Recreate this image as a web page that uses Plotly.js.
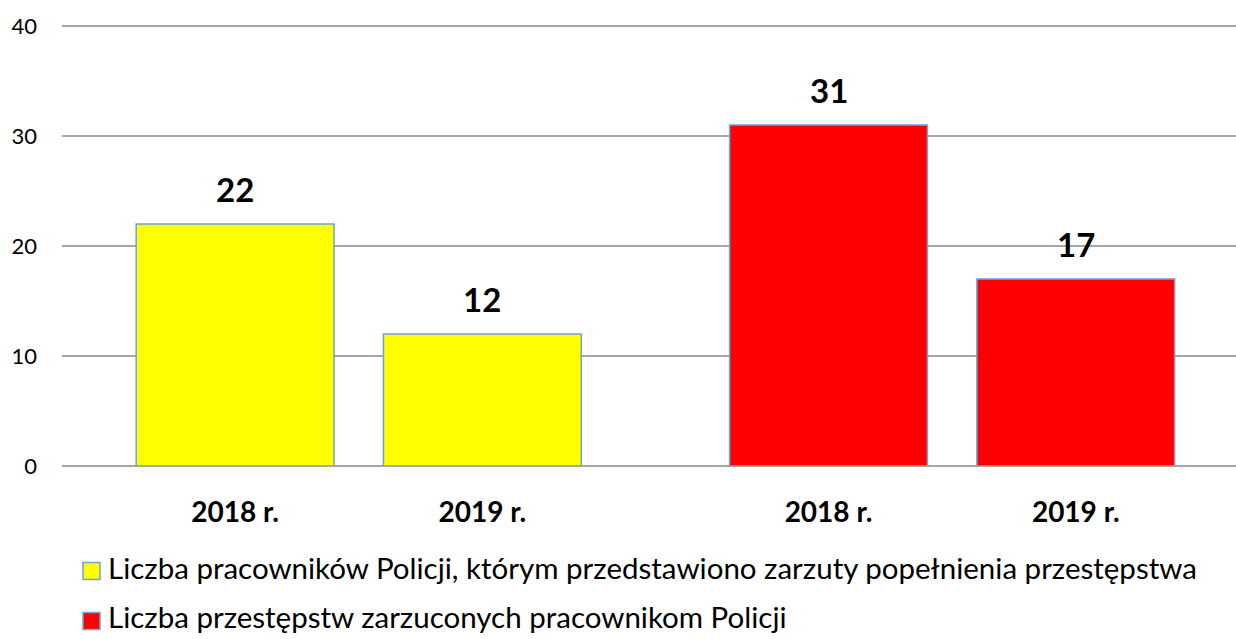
<!DOCTYPE html>
<html>
<head>
<meta charset="utf-8">
<script src="https://cdn.plot.ly/plotly-3.0.1.min.js"></script>
<style>html,body{margin:0;padding:0;background:#fff;}#chart{width:1236px;height:639px;}</style>
</head>
<body>
<div id="chart"></div>
<script>
// ---- data ----
const years = ["2018 r.", "2019 r."];
const employeesCharged = [22, 12];
const offencesCharged = [31, 17];
const seriesNames = [
  "Liczba pracowników Policji, którym przedstawiono zarzuty popełnienia przestępstwa",
  "Liczba przestępstw zarzuconych pracownikom Policji"
];
const seriesColors = ["#FFFF00", "#FF0000"];

// ---- layout helpers (group slot positions) ----
const groupStart = [0, 2.4];
const seriesValues = [employeesCharged, offencesCharged];
const FONT = "Lato, 'Liberation Sans', sans-serif";
const EDGE = "#6FA3D8";

// plot-area geometry (px) used to place the custom legend
const W = 1236, H = 639, ML = 62, MR = 0, MT = 25, MB = 173;
const PW = W - ML - MR, PH = H - MT - MB;
const px2x = p => (p - ML) / PW;
const px2y = p => (H - MB - p) / PH;

const traces = seriesValues.map((vals, g) => ({
  type: "bar",
  name: seriesNames[g],
  x: vals.map((_, i) => groupStart[g] + i),
  y: vals,
  width: 0.8,
  marker: {color: seriesColors[g], line: {color: EDGE, width: 1.5}},
  hoverinfo: "y"
}));

const tickvals = [], ticktext = [], annotations = [], shapes = [];
seriesValues.forEach((vals, g) => {
  vals.forEach((v, i) => {
    const xv = groupStart[g] + i;
    tickvals.push(xv);
    ticktext.push("<b>" + years[i] + "</b>");
    annotations.push({
      x: xv, y: v, xref: "x", yref: "y", text: "<b>" + v + "</b>",
      showarrow: false, yanchor: "bottom", yshift: 13,
      font: {family: FONT, size: 33, color: "#000"}
    });
  });
});

// custom legend (below the plot)
const legendMarkerCenters = [571, 621];
const legendTextCenters = [567, 617];
seriesNames.forEach((name, g) => {
  const cy = legendMarkerCenters[g];
  shapes.push({
    type: "rect", xref: "paper", yref: "paper",
    x0: px2x(83), x1: px2x(100), y0: px2y(cy + 8.5), y1: px2y(cy - 8.5),
    fillcolor: seriesColors[g], line: {color: EDGE, width: 1.5}
  });
  annotations.push({
    x: px2x(106), y: px2y(legendTextCenters[g]), xref: "paper", yref: "paper",
    xanchor: "left", yanchor: "middle", showarrow: false,
    text: name, font: {family: FONT, size: 29.5, color: "#000"}
  });
});

const layout = {
  width: W, height: H,
  margin: {l: ML, r: MR, t: MT, b: MB, autoexpand: false},
  paper_bgcolor: "#fff", plot_bgcolor: "#fff",
  font: {family: FONT, color: "#000"},
  showlegend: false,
  bargap: 0,
  xaxis: {
    range: [-0.70, 4.048],
    tickvals: tickvals, ticktext: ticktext,
    showgrid: false, zeroline: false, showline: false, ticks: "",
    tickfont: {family: FONT, size: 28, color: "#000"},
    ticklabelstandoff: 27,
    fixedrange: true
  },
  yaxis: {
    range: [0, 40.1], tickvals: [0, 10, 20, 30, 40],
    showgrid: true, gridcolor: "#A6A6A6", gridwidth: 1.3,
    zeroline: true, zerolinecolor: "#A6A6A6", zerolinewidth: 1.3,
    showline: false, ticks: "",
    tickfont: {family: FONT, size: 22, color: "#000"},
    ticklabelstandoff: 24,
    fixedrange: true
  },
  annotations: annotations,
  shapes: shapes
};

Plotly.newPlot("chart", traces, layout, {displayModeBar: false, staticPlot: true});
</script>
</body>
</html>
